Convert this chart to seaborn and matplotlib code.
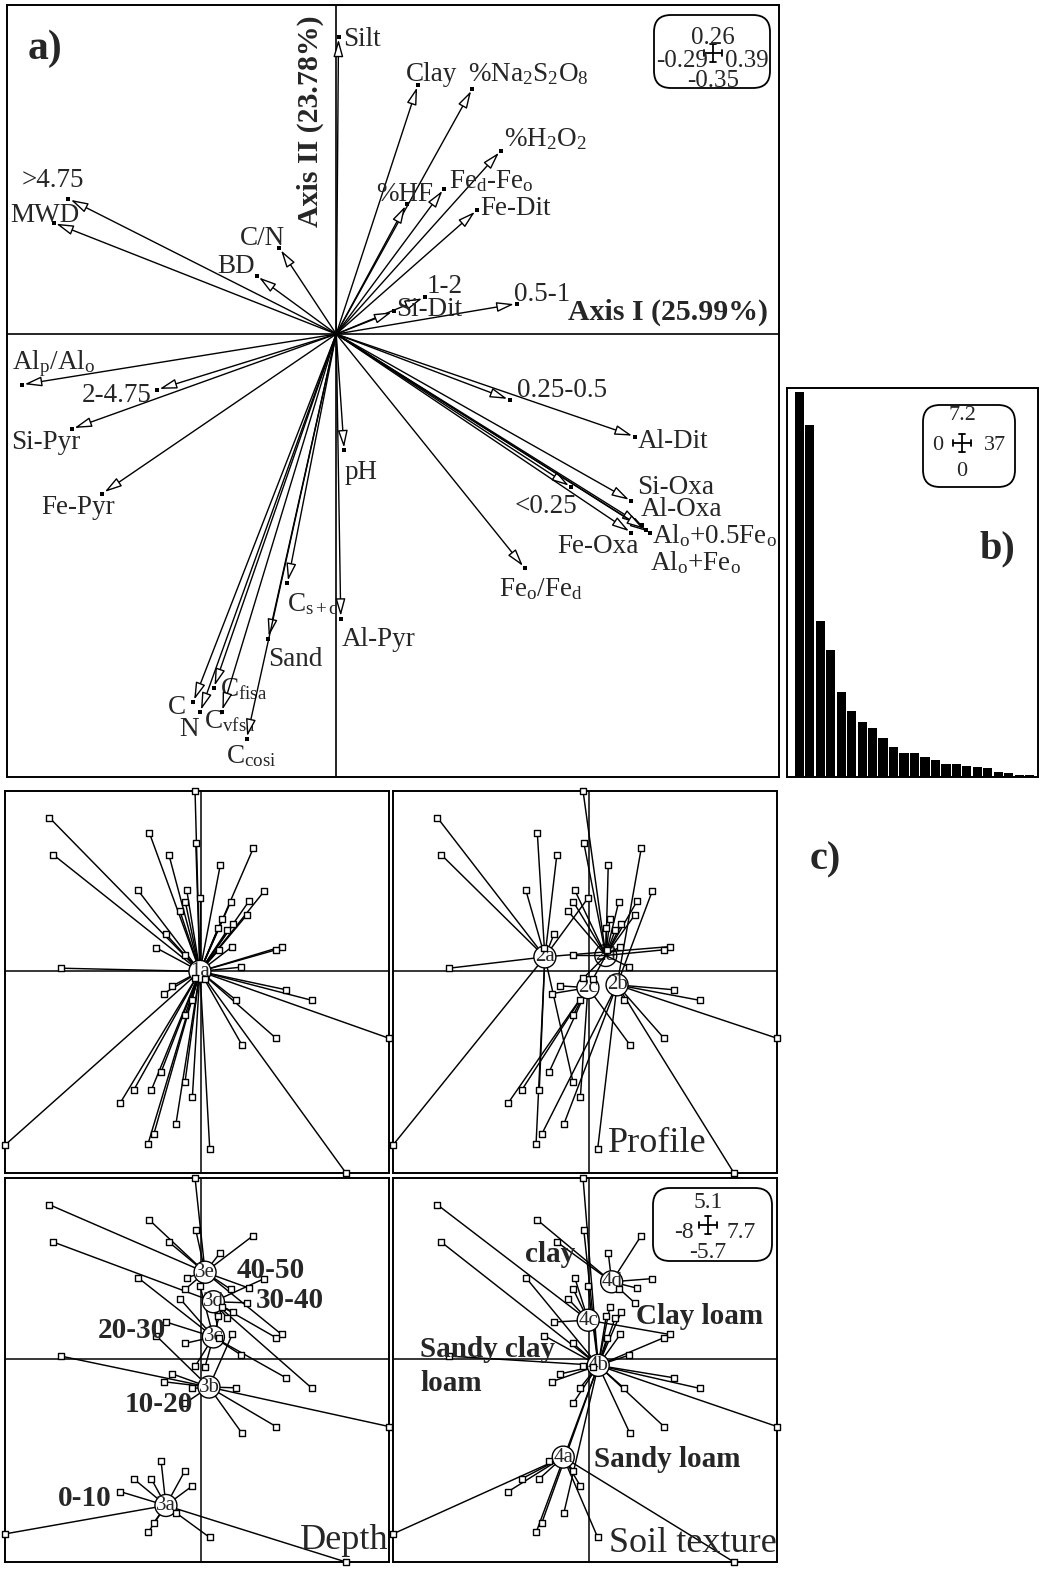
import numpy as np
import pandas as pd
import matplotlib
matplotlib.use("Agg")
import matplotlib.pyplot as plt
import seaborn as sns
from matplotlib.collections import LineCollection
from matplotlib.patches import Ellipse, FancyBboxPatch

# ---------------- data ----------------
# a) loadings of the soil variables on axes I and II
var_names = [
    "Silt", "Clay", "%Na$_2$S$_2$O$_8$", "%H$_2$O$_2$", "Fe$_d$-Fe$_o$", "%HF", "Fe-Dit",
    ">4.75", "MWD", "C/N", "BD", "1-2", "0.5-1", "Si-Dit",
    "Al$_p$/Al$_o$", "2-4.75", "Si-Pyr", "Fe-Pyr", "pH", "C$_{s+c}$", "Al-Pyr", "Sand",
    "C$_{fisa}$", "C", "N", "C$_{vfsa}$", "C$_{cosi}$",
    "0.25-0.5", "Al-Dit", "Si-Oxa", "<0.25", "Al-Oxa", "Al$_o$+0.5Fe$_o$", "Al$_o$+Fe$_o$",
    "Fe-Oxa", "Fe$_o$/Fe$_d$",
]
var_ax1 = [
    0.002, 0.072, 0.120, 0.145, 0.095, 0.062, 0.124,
    -0.236, -0.249, -0.050, -0.070, 0.078, 0.159, 0.051,
    -0.277, -0.158, -0.233, -0.206, 0.007, -0.043, 0.004, -0.060,
    -0.108, -0.126, -0.120, -0.101, -0.079,
    0.153, 0.263, 0.260, 0.207, 0.269, 0.276, 0.273,
    0.260, 0.166,
]
var_ax2 = [
    0.235, 0.197, 0.194, 0.145, 0.115, 0.103, 0.098,
    0.107, 0.088, 0.068, 0.046, 0.029, 0.024, 0.018,
    -0.040, -0.044, -0.075, -0.126, -0.092, -0.197, -0.225, -0.241,
    -0.280, -0.291, -0.299, -0.299, -0.320,
    -0.052, -0.081, -0.132, -0.121, -0.151, -0.157, -0.155,
    -0.157, -0.185,
]
XLIM_A = (-0.29, 0.39)
YLIM_A = (-0.35, 0.26)
AXIS_I = "Axis I (25.99%)"
AXIS_II = "Axis II (23.78%)"

# b) eigenvalues
eigenvalues = [7.20, 6.58, 2.92, 2.38, 1.59, 1.23, 1.03, 0.92, 0.73, 0.56, 0.45, 0.45,
               0.37, 0.31, 0.25, 0.24, 0.21, 0.18, 0.17, 0.09, 0.07, 0.04, 0.04]
EIG_BOX = ["7.2", "0", "37", "0"]

# c) sample scores on axes I / II
samp_ax1 = [-0.23, -6.19, -2.10, -6.03, -1.30, -0.20, 2.15, 0.80, -2.57, -0.57,
            2.60, -0.63, -0.03, 1.23, 1.99, -0.85, 1.88, 0.87, 1.33, 0.72,
            1.09, -1.42, -1.83, 1.29, 3.31, 3.08, 0.75, -5.71, 1.66, -1.16,
            -1.51, 3.49, 4.56, 1.43, 7.70, 3.08, 1.68, -0.63, -1.62, -2.74,
            -2.02, -0.64, -0.34, -3.29, -1.01, -1.91, -2.15, 0.37, -8.00, 5.94,
            -0.64, -0.23, 0.18, -0.37]
samp_ax2 = [5.10, 4.35, 3.92, 3.30, 3.30, 3.64, 3.48, 3.00, 2.30, 2.30,
            2.27, 1.97, 2.07, 1.97, 2.00, 1.71, 1.59, 1.48, 1.33, 1.22,
            1.17, 1.05, 0.67, 0.70, 0.70, 0.61, 0.61, 0.09, 0.12, -0.41,
            -0.63, -0.52, -0.82, -0.80, -1.89, -1.89, -2.07, -1.23, -2.85, -3.36,
            -3.36, -3.13, -3.56, -3.72, -4.31, -4.59, -4.87, -5.01, -4.91, -5.70,
            0.45, -0.20, -0.21, -0.82]

profile_grp = list("daaaadbdad" "bdaddddddd" "daadaddadc" "cbbbbbcccc" "aaccbbabab" "dddc")
depth_grp = list("eeedeeeece" "deceecdcdd" "dcbbeddbcb" "bcdbbbbbaa" "aaaaaaaaaa" "cccb")
texture_grp = list("bcdbdbddbc" "dcbddcdbbb" "bcbbcbbbbb" "bbbbbbbbaa" "aaaabbbaaa" "bbbb")

XLIM_C = (-8, 7.7)
YLIM_C = (-5.7, 5.1)

centroid_all = {"1a": (-0.03, 0.00)}
centroid_profile = {"2d": (0.70, 0.45), "2a": (-1.79, 0.41), "2c": (-0.03, -0.46), "2b": (1.16, -0.38)}
centroid_depth = {"3e": (0.18, 2.45), "3d": (0.52, 1.62), "3c": (0.52, 0.63),
                  "3b": (0.34, -0.78), "3a": (-1.42, -4.11)}
centroid_texture = {"4d": (0.94, 2.18), "4c": (-0.02, 1.10), "4b": (0.39, -0.17), "4a": (-1.04, -2.75)}

depth_names = {"3e": "40-50", "3d": "30-40", "3c": "20-30", "3b": "10-20", "3a": "0-10"}
texture_names = {"4d": "clay", "4c": "Clay loam", "4b": "Sandy clay\nloam", "4a": "Sandy loam"}

# ---------------- layout / style ----------------
W, H = 1045, 1569
# label offsets (pixels) from arrow tip: dx, dy (up), alignment
LABEL_POS = {
    "Silt": (5, 0, "left"), "Clay": (-12, 13, "left"), "%Na$_2$S$_2$O$_8$": (-4, 16, "left"),
    "%H$_2$O$_2$": (3, 13, "left"), "Fe$_d$-Fe$_o$": (5, 9, "left"), "%HF": (-30, 12, "left"),
    "Fe-Dit": (3, 4, "left"), ">4.75": (-47, 21, "left"), "MWD": (-43, 10, "left"),
    "C/N": (-40, 12, "left"), "BD": (-39, 12, "left"), "1-2": (2, 13, "left"),
    "0.5-1": (-3, 12, "left"), "Si-Dit": (2, 4, "left"), "Al$_p$/Al$_o$": (-10, 25, "left"),
    "2-4.75": (-5, -3, "right"), "Si-Pyr": (-61, -11, "left"), "Fe-Pyr": (-61, -11, "left"),
    "pH": (0, -20, "left"), "C$_{s+c}$": (0, -19, "left"), "Al-Pyr": (1, -18, "left"),
    "Sand": (0, -18, "left"), "C$_{fisa}$": (6, 1, "left"), "C": (-7, -3, "right"),
    "N": (-1, -15, "right"), "C$_{vfsa}$": (-18, -7, "left"), "C$_{cosi}$": (-21, -15, "left"),
    "0.25-0.5": (7, 12, "left"), "Al-Dit": (3, -2, "left"), "Si-Oxa": (6, 16, "left"),
    "<0.25": (-57, -17, "left"), "Al-Oxa": (-1, 18, "left"), "Al$_o$+0.5Fe$_o$": (2, -1, "left"),
    "Al$_o$+Fe$_o$": (4, -31, "left"), "Fe-Oxa": (7, -11, "right"), "Fe$_o$/Fe$_d$": (-26, -19, "left"),
}
DEPTH_POS = {"3e": (32, 2, "left"), "3d": (42, 1, "left"), "3c": (-47, 6, "right"),
             "3b": (-16, -17, "right"), "3a": (-54, 7, "right")}
TEXTURE_POS = {"4d": (-37, 27, "right"), "4c": (48, 4, "left"), "4b": (-178, -1, "left"),
               "4a": (31, -2, "left")}

sns.set_theme(style="white")
plt.rcParams["font.family"] = ["Liberation Serif", "DejaVu Serif"]
plt.rcParams["mathtext.fontset"] = "custom"
plt.rcParams["mathtext.rm"] = "Liberation Serif"
plt.rcParams["mathtext.it"] = "Liberation Serif:italic"
plt.rcParams["mathtext.default"] = "regular"

fig = plt.figure(figsize=(W / 100, H / 100), dpi=100)


def add_ax(x0, y0, x1, y1):
    ax = fig.add_axes([x0 / W, 1 - y1 / H, (x1 - x0) / W, (y1 - y0) / H])
    ax.set_xticks([])
    ax.set_yticks([])
    ax.set_xlabel("")
    ax.set_ylabel("")
    for s in ax.spines.values():
        s.set_visible(True)
        s.set_color("black")
        s.set_linewidth(1.4)
    return ax


# ---- a) correlation circle
ax_a = add_ax(7, 5, 779, 777)
ax_a.axhline(0, color="black", lw=1.2, zorder=1)
ax_a.axvline(0, color="black", lw=1.2, zorder=1)
for name, x, y in zip(var_names, var_ax1, var_ax2):
    ax_a.annotate("", xy=(x, y), xytext=(0, 0),
                  arrowprops=dict(arrowstyle="-|>,head_length=1.05,head_width=0.3",
                                  lw=1.0, ec="black", fc="white",
                                  shrinkA=0, shrinkB=2, mutation_scale=10))
    dx, dy, ha = LABEL_POS[name]
    ax_a.annotate(name, xy=(x, y), xytext=(dx, dy - 9), textcoords="offset pixels",
                  ha=ha, va="baseline", fontsize=19.5, annotation_clip=False)
sns.scatterplot(x=var_ax1, y=var_ax2, marker="s", s=10, color="black", linewidth=0,
                ax=ax_a, zorder=5, legend=False)
ax_a.set_xlim(XLIM_A)
ax_a.set_ylim(YLIM_A)
ax_a.set_xticks([])
ax_a.set_yticks([])

# ---- b) eigenvalues
ax_b = add_ax(787, 388, 1038, 777)
eig_df = pd.DataFrame({"rank": np.arange(1, len(eigenvalues) + 1), "eig": eigenvalues})
sns.barplot(data=eig_df, x="rank", y="eig", color="black", saturation=1, width=0.88,
            linewidth=0, ax=ax_b)
ax_b.set_xlim(-1.17, len(eigenvalues) - 1 + 0.79)
ax_b.set_ylim(0, max(eigenvalues) * 1.01)
ax_b.set_xticks([])
ax_b.set_yticks([])
ax_b.set_xlabel("")
ax_b.set_ylabel("")

# ---- c) star plots
samples = pd.DataFrame({"ax1": samp_ax1, "ax2": samp_ax2, "all": "1a",
                        "profile": ["2" + g for g in profile_grp],
                        "depth": ["3" + g for g in depth_grp],
                        "texture": ["4" + g for g in texture_grp]})
CIRCLE_PX = 22


def star_panel(rect, col, centroids, hidden=()):
    ax = add_ax(*rect)
    ax.axhline(0, color="black", lw=1.1, zorder=1)
    ax.axvline(0, color="black", lw=1.1, zorder=1)
    segs = [[(x, y), centroids[g]] for x, y, g in zip(samples["ax1"], samples["ax2"], samples[col])]
    ax.add_collection(LineCollection(segs, colors="black", linewidths=1.05, zorder=2))
    sns.scatterplot(data=samples, x="ax1", y="ax2", marker="s", s=14, color="white",
                    edgecolor="black", linewidth=1.0, ax=ax, zorder=4, clip_on=False, legend=False)
    px_x = (rect[2] - rect[0]) / (XLIM_C[1] - XLIM_C[0])
    px_y = (rect[3] - rect[1]) / (YLIM_C[1] - YLIM_C[0])
    for g, (gx, gy) in centroids.items():
        z = 1.5 if g in hidden else 3
        ax.add_patch(Ellipse((gx, gy), CIRCLE_PX / px_x, CIRCLE_PX / px_y,
                             fc="white", ec="black", lw=1.0, zorder=z))
        ax.text(gx, gy, g, ha="center", va="center", fontsize=15, zorder=z + 0.1)
    ax.set_xlim(XLIM_C)
    ax.set_ylim(YLIM_C)
    ax.set_xticks([])
    ax.set_yticks([])
    ax.set_xlabel("")
    ax.set_ylabel("")
    return ax


ax_c1 = star_panel((5, 791, 389, 1173), "all", centroid_all)
ax_c2 = star_panel((393, 791, 777, 1173), "profile", centroid_profile, hidden=("2d",))
ax_c3 = star_panel((5, 1178, 389, 1562), "depth", centroid_depth)
ax_c4 = star_panel((393, 1178, 777, 1562), "texture", centroid_texture)

ax_c2.text(0.561, 0.078, "Profile", transform=ax_c2.transAxes, fontsize=26, ha="left", va="center")
ax_c3.text(0.998, 0.057, "Depth", transform=ax_c3.transAxes, fontsize=26, ha="right", va="center")
ax_c4.text(1.0, 0.049, "Soil texture", transform=ax_c4.transAxes, fontsize=26, ha="right", va="center")

for ax, names, pos, cents in [(ax_c3, depth_names, DEPTH_POS, centroid_depth),
                              (ax_c4, texture_names, TEXTURE_POS, centroid_texture)]:
    for g, label in names.items():
        dx, dy, ha = pos[g]
        ax.annotate(label, xy=cents[g], xytext=(dx, dy), textcoords="offset pixels",
                    ha=ha, va="center", fontsize=21, fontweight="bold",
                    linespacing=1.3, zorder=6, annotation_clip=False)

# ---- overlay: panel letters, axis titles, scale boxes (pixel coordinates)
ov = fig.add_axes([0, 0, 1, 1], zorder=10)
ov.set_xlim(0, W)
ov.set_ylim(H, 0)
ov.axis("off")
ov.patch.set_alpha(0)

ov.text(45, 49, "a)", fontsize=30, fontweight="bold", ha="center", va="center")
ov.text(997, 549, "b)", fontsize=29, fontweight="bold", ha="center", va="center")
ov.text(825, 860, "c)", fontsize=29, fontweight="bold", ha="center", va="center")
ov.text(768, 312, AXIS_I, fontsize=21.5, fontweight="bold", ha="right", va="center")
ov.text(310, 121, AXIS_II, fontsize=21.5, fontweight="bold", ha="center", va="center", rotation=90)


def scale_box(box, cross, vals, offs, fs):
    x0, y0, x1, y1 = box
    ov.add_patch(FancyBboxPatch((x0, y0), x1 - x0, y1 - y0,
                                boxstyle="round,pad=0,rounding_size=17",
                                fc="white", ec="black", lw=1.3))
    cx, cy = cross
    top, left, right, bottom = vals
    dtop, dbot, gl, gr, dside = offs
    ov.text(cx, cy - dtop, top, ha="center", va="center", fontsize=fs)
    ov.text(cx, cy + dbot, bottom, ha="center", va="center", fontsize=fs)
    ov.text(cx - gl, cy + dside, left, ha="right", va="center", fontsize=fs)
    ov.text(cx + gr, cy + dside, right, ha="left", va="center", fontsize=fs)
    hw, cap = 9, 3
    kw = dict(color="black", lw=1.3)
    ov.plot([cx, cx], [cy - hw, cy + hw], **kw)
    ov.plot([cx - cap, cx + cap], [cy - hw, cy - hw], **kw)
    ov.plot([cx - cap, cx + cap], [cy + hw, cy + hw], **kw)
    ov.plot([cx - hw, cx + hw], [cy, cy], **kw)
    ov.plot([cx - hw, cx - hw], [cy - cap, cy + cap], **kw)
    ov.plot([cx + hw, cx + hw], [cy - cap, cy + cap], **kw)


fmt = lambda v: f"{v:g}"
scale_box((654, 15, 770, 88), (713, 53),
          [fmt(YLIM_A[1]), fmt(XLIM_A[0]), fmt(XLIM_A[1]), fmt(YLIM_A[0])],
          (15, 28, 5, 12, 8), 18)
scale_box((923, 405, 1015, 487), (962, 443), EIG_BOX, (27, 29, 19, 22, 2), 16)
scale_box((653, 1188, 772, 1261), (708, 1225),
          [fmt(YLIM_C[1]), fmt(XLIM_C[0]), fmt(XLIM_C[1]), fmt(YLIM_C[0])],
          (22, 27, 14, 18, 7), 17)

fig.savefig("out.png", dpi=100)
